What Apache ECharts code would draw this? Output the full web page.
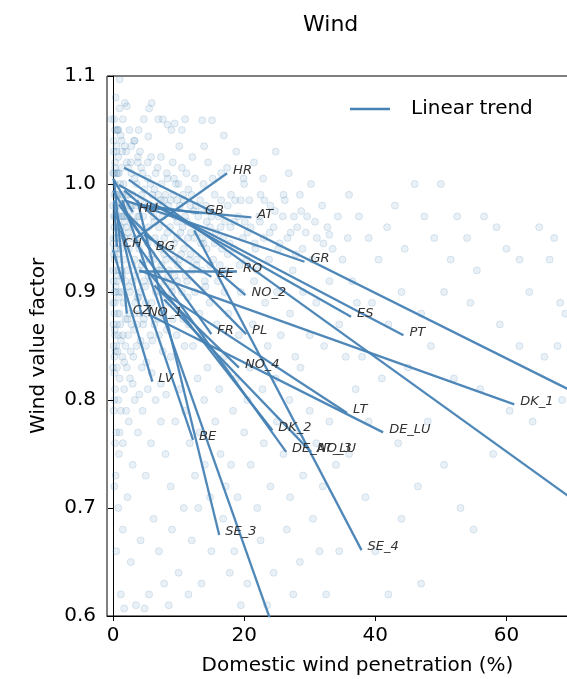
<!DOCTYPE html>
<html>
<head>
<meta charset="utf-8">
<script src="https://cdn.jsdelivr.net/npm/echarts@6/dist/echarts.min.js"></script>
<style>
  html, body { margin: 0; padding: 0; background: #fff; }
  #chart { width: 567px; height: 679px; }
</style>
</head>
<body>
<div id="chart"></div>
<script>
// ticks
const xTicks = [0, 20, 40, 60];
const yTicks = [0.6, 0.7, 0.8, 0.9, 1.0, 1.1];

// scatter points [penetration %, value factor]
const pointsTop = [
  [1.0,1.097],[1.8,1.075],[2.1,1.072],[-0.2,1.06],[0.7,1.05],[9.4,1.056],[7.6,1.06],[8.3,1.055],[5.4,1.044],[3.3,1.04],
  [15.1,1.059],[13.6,1.059],[11.0,1.06],[0.2,1.06],[0.6,1.05],[1.0,1.07],[0.4,1.08],[1.5,1.06],[2.5,1.05],[3.2,1.04],
  [4.1,1.03],[5.3,1.02],[6.5,1.01],[7.4,1.00],[8.2,1.01],[9.1,1.02],[10.0,1.00],[11.2,1.01],[12.0,0.99],[5.5,1.07],
  [5.9,1.075],[6.9,1.06],[3.9,1.05],[8.9,1.05],[10.5,1.05],[0.3,1.05],[4.7,1.06],[0.5,1.03],[1.3,1.04],[2.0,1.03],
  [2.7,1.02],[3.8,1.02],[4.5,1.01],[5.7,1.00],[6.9,0.99],[8.0,0.99],[9.6,1.00],[10.7,0.99],[12.6,0.98],[13.8,1.00],
  [15.0,0.97],[16.4,0.96]
];
const pointsCore = [
  [0.1,1.04],[0.3,1.02],[0.2,0.99],[0.5,0.97],[0.4,0.95],[0.2,0.93],[0.6,0.91],[0.3,0.89],[0.1,0.87],[0.5,0.85],
  [0.8,1.05],[0.9,1.01],[1.1,0.98],[0.7,0.96],[1.2,0.94],[0.9,0.92],[1.3,0.90],[1.0,0.88],[0.8,0.86],[1.4,1.03],
  [1.6,1.00],[1.5,0.97],[1.8,0.95],[1.7,0.93],[1.9,0.91],[1.6,0.89],[2.1,1.02],[2.3,0.99],[2.0,0.96],[2.4,0.94],
  [2.2,0.92],[2.6,0.90],[2.5,0.88],[2.8,1.01],[2.9,0.98],[3.1,0.96],[2.7,0.95],[3.3,0.93],[3.0,0.91],[3.4,0.89],
  [3.6,1.00],[3.8,0.97],[3.5,0.95],[4.0,0.94],[3.9,0.92],[4.2,0.90],[4.4,0.99],[4.6,0.97],[4.3,0.96],[4.8,0.93],
  [4.7,0.91],[5.0,0.89],[5.2,0.98],[5.4,0.96],[5.1,0.95],[5.6,0.93],[5.8,0.91],[6.0,0.99],[6.2,0.97],[6.4,0.95],
  [6.1,0.93],[6.6,0.92],[6.8,0.98],[7.0,0.96],[7.3,0.94],[7.1,0.92],[7.6,0.97],[7.8,0.95],[8.1,0.93],[8.4,0.98],
  [8.7,0.96],[8.9,0.94],[9.2,0.99],[9.5,0.97],[9.8,0.95],[10.2,0.98],[10.6,0.96],[11.0,0.97],[11.4,0.95],[11.8,0.98],
  [0.3,1.00],[0.6,0.99],[0.9,0.97],[1.2,0.96],[0.4,0.98],[0.7,1.01],[1.1,1.00],[1.4,0.99],[1.8,0.98],[2.2,0.97],
  [0.2,0.96],[0.5,0.94],[0.8,0.93],[1.3,0.92],[1.7,0.97],[2.0,0.99],[2.6,0.98],[3.0,0.99],[3.5,0.98],[4.0,0.97],
  [0.1,0.91],[0.4,0.90],[0.7,0.88],[1.1,0.87],[1.5,0.86],[0.2,0.84],[0.6,0.83],[1.0,0.82],[1.4,0.84],[1.9,0.85],
  [2.3,0.86],[2.8,0.87],[3.2,0.88],[3.7,0.87],[4.1,0.88],[4.6,0.87],[5.2,0.88],[5.9,0.89],[6.5,0.90],[7.2,0.90],
  [7.9,0.91],[8.6,0.92],[9.3,0.93],[10.1,0.93],[10.8,0.94],[11.6,0.93],[12.4,0.95],[13.0,0.97],[13.6,0.95],[14.2,0.98],
  [14.8,0.96],[15.5,0.99],[16.1,0.97],[16.8,0.95],[17.5,0.98],[0.3,0.81],[0.8,0.80],[0.1,0.79],[0.5,0.77],[1.2,0.79],
  [1.7,0.81],[2.1,0.83],[2.6,0.82],[3.1,0.84],[3.6,0.85],[0.9,0.75],[0.4,0.73],[1.5,0.76],[2.4,0.78],[3.3,0.80],
  [4.4,0.83],[5.0,0.85],[5.7,0.86],[6.3,0.87],[7.0,0.86],[7.7,0.88],[8.5,0.89],[9.0,0.90],[9.8,0.91],[10.5,0.90],
  [11.3,0.91],[12.1,0.92],[12.8,0.93],[13.5,0.92],[14.3,0.94],[0.0,0.98],[0.1,0.95],[0.0,0.92],[0.2,0.88],[0.1,0.85],
  [0.0,0.83],[0.3,0.86],[0.0,1.01],[0.1,1.03],[0.4,0.92],[0.6,0.87],[0.2,0.80],[0.0,0.89],[0.7,0.99],[0.3,0.97],
  [0.5,1.01],[0.2,1.01],[0.4,0.99],[0.6,0.96],[0.1,0.97],[0.8,0.95],[0.3,0.94],[0.9,0.90],[0.2,0.90],[1.2,0.97]
];
const pointsDense = [
  [0.5,0.955],[0.9,0.945],[1.3,0.985],[1.8,0.965],[2.3,0.955],[2.7,0.975],[3.2,0.965],[3.7,0.945],[4.2,0.985],[4.7,0.955],
  [5.3,0.945],[5.8,0.975],[6.3,0.965],[6.8,0.945],[7.3,0.985],[7.8,0.935],[8.3,0.955],[8.8,0.975],[9.3,0.945],[9.8,0.965],
  [10.3,0.955],[10.8,0.985],[11.3,0.965],[11.8,0.935],[12.3,0.975],[12.8,0.955],[13.3,0.985],[13.8,0.945],[14.3,0.965],[14.8,0.925],
  [0.4,0.905],[0.9,0.895],[1.4,0.915],[1.9,0.875],[2.4,0.905],[2.9,0.925],[3.4,0.915],[3.9,0.895],[4.4,0.925],[4.9,0.905],
  [5.4,0.915],[5.9,0.935],[6.4,0.915],[6.9,0.905],[7.4,0.925],[7.9,0.895],[8.4,0.915],[8.9,0.905],[9.4,0.915],[9.9,0.925],
  [0.3,1.015],[0.8,1.025],[1.3,1.015],[1.8,1.035],[2.3,1.015],[2.8,1.035],[3.3,1.005],[3.8,1.025],[4.3,1.015],[4.8,0.995],
  [5.3,1.005],[5.8,1.025],[6.3,0.995],[6.8,1.015],[7.3,1.025],[7.8,0.985],[8.3,1.005],[8.8,0.985],[9.3,1.005],[9.8,0.985],
  [10.5,1.015],[11.5,0.995],[12.5,1.005],[13.5,0.975],[15.5,0.945],[16.5,0.985],[17.5,0.935],[18.5,0.965],[19.5,0.985],[20.5,0.955],
  [0.2,0.825],[0.7,0.845],[1.2,0.855],[1.7,0.835],[2.2,0.875],[2.7,0.845],[3.2,0.865],[3.7,0.895],[4.2,0.855],[4.7,0.875],
  [0.15,0.935],[0.45,0.975],[0.75,0.915],[1.05,0.955],[0.25,0.865],[0.55,1.035],[1.15,1.045],[0.05,0.945],[0.35,0.845],[0.65,0.935]
];
const pointsShoulder = [
  [10.4,0.935],[11.1,0.915],[11.9,0.955],[12.7,0.925],[13.4,0.945],[14.1,0.905],[14.9,0.975],[15.7,0.955],[16.3,0.925],[17.1,0.965],
  [17.8,0.945],[18.6,0.985],[19.3,0.925],[20.1,0.965],[20.8,0.985],[21.6,0.945],[22.4,0.965],[23.1,0.985],[23.9,0.955],[24.7,0.975],
  [25.4,0.945],[26.2,0.985],[27.1,0.955],[27.9,0.935],[28.7,0.975],[29.4,0.955],[30.8,0.965],[32.1,0.945],[15.2,1.005],[17.4,1.015],
  [19.9,1.005],[22.9,1.005],[12.1,1.025],[13.9,1.035],[16.9,1.045],[10.1,1.035],[5.1,0.835],[6.0,0.855],[6.9,0.875],[7.6,0.845],
  [8.2,0.865],[9.1,0.875],[9.9,0.885],[10.7,0.875],[11.4,0.895],[3.0,0.815],[4.0,0.805],[5.9,0.825],[7.3,0.815],[8.1,0.805]
];
const pointsMid = [
  [12.5,0.90],[13.2,0.88],[14.0,0.91],[14.7,0.89],[15.3,0.93],[16.0,0.91],[16.6,0.94],[17.2,0.92],[17.9,0.96],[18.5,0.94],
  [19.1,0.97],[19.8,0.95],[20.4,0.93],[21.0,0.96],[21.7,0.94],[22.3,0.97],[23.0,0.95],[23.8,0.93],[24.5,0.96],[25.2,0.94],
  [25.9,0.97],[26.6,0.95],[27.4,0.92],[28.1,0.96],[28.9,0.94],[29.6,0.97],[30.4,0.93],[31.1,0.95],[31.9,0.98],[32.7,0.96],
  [33.5,0.94],[34.3,0.97],[18.0,0.99],[20.0,1.00],[22.5,0.99],[24.0,0.98],[26.0,0.99],[19.5,0.90],[21.5,0.91],[23.2,0.89],
  [25.0,0.90],[27.0,0.88],[29.0,0.90],[31.0,0.89],[33.0,0.91],[13.5,0.86],[15.8,0.87],[17.6,0.88],[19.2,0.86],[21.3,0.87],
  [23.6,0.85],[25.6,0.86],[27.8,0.84],[30.0,0.86],[32.2,0.85],[34.5,0.87],[14.4,0.83],[16.9,0.84],[18.8,0.82],[20.9,0.83],
  [22.8,0.81],[24.8,0.82],[26.9,0.80],[28.6,0.83],[12.2,0.85],[12.9,0.82],[11.5,0.87],[10.9,0.85],[9.7,0.86],[8.8,0.84],
  [13.9,0.80],[16.2,0.81],[18.3,0.79],[20.5,0.80],[35.0,0.93],[35.8,0.95],[36.5,0.91],[37.2,0.89],[22.0,0.92],[17.0,0.90],
  [27.6,0.97],[33.0,0.953],[28.5,0.99],[30.2,1.00],[26.8,1.01],[21.5,1.02],[18.8,1.03],[16.5,1.01],[14.5,1.02],[24.8,1.03]
];
const pointsFar = [
  [36.0,0.99],[37.5,0.97],[39.0,0.95],[40.5,0.93],[41.8,0.96],[43.0,0.98],[44.5,0.94],[46.0,1.00],[47.5,0.97],[49.0,0.95],
  [50.0,1.00],[51.5,0.93],[52.5,0.97],[54.0,0.95],[55.5,0.92],[56.6,0.97],[58.5,0.96],[60.0,0.94],[62.0,0.93],[63.5,0.90],
  [65.0,0.96],[66.6,0.93],[67.3,0.95],[68.2,0.89],[69.0,0.88],[67.8,0.85],[62.0,0.85],[65.8,0.84],[59.0,0.87],[54.5,0.89],
  [50.5,0.90],[47.0,0.88],[44.0,0.90],[42.0,0.87],[39.5,0.89],[38.0,0.84],[41.0,0.82],[45.0,0.83],[48.5,0.85],[52.0,0.82],
  [56.0,0.81],[60.5,0.79],[64.0,0.78],[48.0,0.78],[43.5,0.76],[39.0,0.78],[37.0,0.81],[35.5,0.84],[46.5,0.72],[50.5,0.74],
  [53.0,0.70],[44.0,0.69],[40.0,0.66],[47.0,0.63],[42.0,0.62],[38.5,0.71],[36.0,0.75],[58.0,0.75],[55.0,0.68],[68.5,0.80]
];
const pointsLow = [
  [0.2,0.72],[0.8,0.70],[1.5,0.68],[0.5,0.66],[2.2,0.71],[3.0,0.74],[3.8,0.77],[4.5,0.79],[5.3,0.81],[2.7,0.65],
  [1.2,0.62],[3.5,0.61],[4.2,0.67],[5.0,0.73],[5.8,0.76],[6.5,0.80],[7.3,0.78],[8.0,0.75],[8.8,0.72],[9.5,0.78],
  [10.2,0.81],[11.0,0.79],[11.7,0.76],[12.5,0.73],[13.2,0.77],[14.0,0.74],[14.8,0.71],[15.6,0.78],[16.4,0.75],[17.2,0.72],
  [6.2,0.69],[7.0,0.66],[7.8,0.63],[9.0,0.68],[10.0,0.64],[10.8,0.70],[12.0,0.67],[13.5,0.63],[15.0,0.66],[16.8,0.69],
  [18.0,0.74],[19.0,0.71],[20.0,0.77],[21.0,0.74],[22.0,0.70],[23.0,0.76],[24.0,0.72],[25.0,0.78],[26.0,0.75],[27.0,0.71],
  [28.0,0.77],[29.0,0.73],[30.0,0.79],[31.0,0.76],[32.0,0.72],[33.0,0.78],[34.0,0.74],[18.5,0.66],[20.5,0.63],[22.5,0.67],
  [24.5,0.64],[26.5,0.68],[28.5,0.65],[30.5,0.69],[32.5,0.62],[34.5,0.66],[19.5,0.61],[23.5,0.61],[1.0,0.77],[2.0,0.79],
  [0.3,0.76],[5.5,0.62],[8.5,0.61],[11.5,0.62],[13.0,0.70],[17.8,0.64],[27.5,0.62],[31.5,0.66],[1.7,0.607],[4.8,0.607]
];

// linear trends per bidding zone: [x start, y start, x end, y end]
const trendNames = ['HR','HU','GB','AT','CH','BG','GR','EE','RO','NO_2','ES','PT','CZ','NO_1','FR','PL',
  'NO_4','LV','DK_1','LT','DE_LU','BE','DK_2','DE_AT_LU','NO_3','SE_3','SE_4','SE_2','SE_1','FI'];
const trendLines = [
  [3.5,0.950,17.4,1.010],[0.0,1.005,3.0,0.974],[4.0,0.981,13.1,0.973],[5.5,0.978,21.1,0.969],
  [0.15,0.985,0.6,0.942],[0.0,0.994,5.6,0.939],[1.7,0.985,29.2,0.928],[4.7,0.953,15.0,0.914],
  [4.0,0.919,18.9,0.919],[1.7,0.994,20.2,0.897],[0.9,0.999,36.3,0.877],[6.3,0.981,44.3,0.860],
  [0.15,1.004,2.1,0.880],[1.2,0.957,4.4,0.878],[0.9,0.981,15.0,0.861],[2.4,0.971,20.3,0.861],
  [6.3,0.906,19.2,0.830],[0.0,0.939,6.0,0.817],[4.0,0.920,61.2,0.796],[7.0,0.902,35.7,0.788],
  [5.5,0.879,41.2,0.770],[0.6,0.971,12.2,0.763],[4.0,0.930,24.3,0.772],[3.2,0.948,26.4,0.752],
  [7.8,0.893,30.2,0.752],[3.7,0.985,16.2,0.675],[12.4,0.957,37.9,0.661],[1.4,0.985,26.7,0.550],
  [1.7,1.015,80.0,0.778],[2.4,1.004,80.0,0.665]
];
// zones whose label falls outside the visible frame
const hiddenLabels = ['SE_2','SE_1','FI'];

const steel = '#4682b4';
const font = 'DejaVu Sans';

let myChart = echarts.init(document.getElementById('chart'));

let series = [{
  name: 'points',
  type: 'scatter',
  data: pointsTop.concat(pointsCore, pointsDense, pointsShoulder, pointsMid, pointsFar, pointsLow),
  symbolSize: 7,
  itemStyle: {
    color: 'rgba(70,130,180,0.14)',
    borderColor: 'rgba(70,130,180,0.22)',
    borderWidth: 1
  },
  z: 1,
  silent: true
}, {
  name: 'Linear trend',
  type: 'line',
  data: [],
  symbol: 'none',
  lineStyle: { color: steel, width: 2.3 },
  itemStyle: { color: steel }
}];

trendLines.forEach((l, i) => {
  let name = trendNames[i];
  series.push({
    name: name,
    type: 'line',
    data: [[l[0], l[1]], [l[2], l[3]]],
    symbol: 'none',
    clip: true,
    lineStyle: { color: steel, width: 2.3, opacity: 0.95 },
    z: 3,
    endLabel: {
      show: hiddenLabels.indexOf(name) < 0,
      formatter: name,
      distance: 6,
      offset: [0, -3],
      color: '#333',
      fontStyle: 'italic',
      fontSize: 13,
      fontFamily: font
    }
  });
});

myChart.setOption({
  animation: false,
  backgroundColor: '#fff',
  title: {
    text: 'Wind',
    left: 298,
    top: 9,
    textStyle: { fontSize: 22, fontWeight: 'normal', color: '#000', fontFamily: font }
  },
  legend: {
    data: [{ name: 'Linear trend', icon: 'rect' }],
    left: 345,
    top: 94,
    itemWidth: 40,
    itemHeight: 2.5,
    textStyle: { fontSize: 20, color: '#000', fontFamily: font, padding: [0, 0, 0, 16] }
  },
  grid: {
    left: 107,
    right: -41,
    top: 76,
    bottom: 63,
    outerBoundsMode: 'none',
    show: true,
    borderColor: '#000',
    borderWidth: 1
  },
  xAxis: {
    type: 'value',
    min: -0.92,
    max: 75.5,
    name: 'Domestic wind penetration (%)',
    nameLocation: 'middle',
    nameGap: 40,
    nameTextStyle: { fontSize: 20, color: '#000', fontFamily: font },
    axisLine: { show: true, lineStyle: { color: '#000', width: 1 } },
    axisTick: { show: true, length: 5, customValues: xTicks, lineStyle: { color: '#000' } },
    axisLabel: { customValues: xTicks, fontSize: 20, color: '#000', fontFamily: font, margin: 10 },
    splitLine: { show: false }
  },
  yAxis: {
    type: 'value',
    min: 0.6,
    max: 1.1,
    name: 'Wind value factor',
    nameLocation: 'middle',
    nameGap: 58,
    nameTextStyle: { fontSize: 20, color: '#000', fontFamily: font },
    axisLine: { show: true, lineStyle: { color: '#000', width: 1 } },
    axisTick: { show: true, length: 5, customValues: yTicks, lineStyle: { color: '#000' } },
    axisLabel: {
      customValues: yTicks,
      fontSize: 20,
      color: '#000',
      fontFamily: font,
      margin: 11,
      formatter: v => v.toFixed(1)
    },
    splitLine: { show: false }
  },
  series: series
});
</script>
</body>
</html>
